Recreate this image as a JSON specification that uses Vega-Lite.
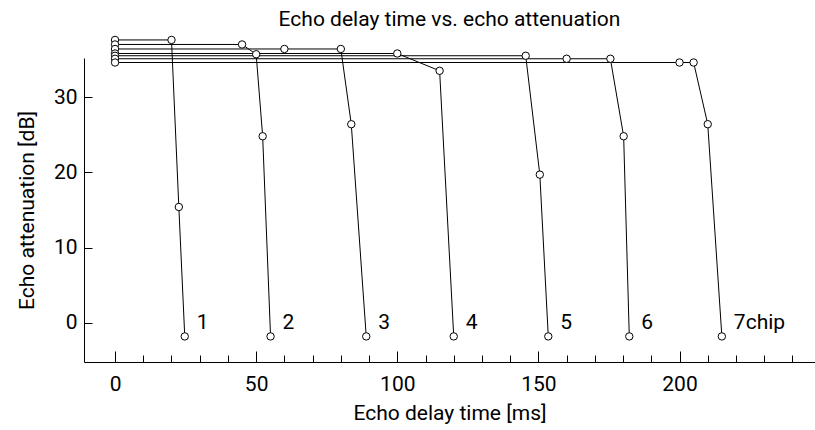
{
  "$schema": "https://vega.github.io/schema/vega-lite/v6.json",
  "width": 731,
  "height": 304,
  "autosize": "none",
  "padding": {"left": 84, "top": 58, "right": 0, "bottom": 68},
  "background": "white",
  "config": {
    "view": {"stroke": null},
    "font": "Roboto",
    "axis": {"domainColor": "black", "tickColor": "black", "labelColor": "black", "titleColor": "black", "grid": false, "labelFont": "Roboto", "titleFont": "Roboto", "titleFontWeight": "normal", "domainWidth": 1, "tickWidth": 1}
  },
  "title": {"text": "Echo delay time vs. echo attenuation", "fontSize": 21, "fontWeight": "normal", "font": "Roboto", "color": "black", "anchor": "middle", "frame": "group", "offset": 4},
  "resolve": {"axis": {"x": "independent"}},
  "datasets": {
    "pts": [
      {"series": "1", "step": 1, "delay": 0, "atten": 37.6},
      {"series": "1", "step": 2, "delay": 20, "atten": 37.6},
      {"series": "1", "step": 3, "delay": 22.6, "atten": 15.4},
      {"series": "1", "step": 4, "delay": 24.7, "atten": -1.8},
      {"series": "2", "step": 1, "delay": 0, "atten": 37.0},
      {"series": "2", "step": 2, "delay": 45, "atten": 37.0},
      {"series": "2", "step": 3, "delay": 50, "atten": 35.7},
      {"series": "2", "step": 4, "delay": 52.3, "atten": 24.8},
      {"series": "2", "step": 5, "delay": 55.1, "atten": -1.8},
      {"series": "3", "step": 1, "delay": 0, "atten": 36.4},
      {"series": "3", "step": 2, "delay": 60, "atten": 36.4},
      {"series": "3", "step": 3, "delay": 80, "atten": 36.4},
      {"series": "3", "step": 4, "delay": 83.7, "atten": 26.4},
      {"series": "3", "step": 5, "delay": 89, "atten": -1.8},
      {"series": "4", "step": 1, "delay": 0, "atten": 35.8},
      {"series": "4", "step": 2, "delay": 100, "atten": 35.8},
      {"series": "4", "step": 3, "delay": 115, "atten": 33.5},
      {"series": "4", "step": 4, "delay": 120, "atten": -1.8},
      {"series": "5", "step": 1, "delay": 0, "atten": 35.5},
      {"series": "5", "step": 2, "delay": 145.5, "atten": 35.5},
      {"series": "5", "step": 3, "delay": 150.5, "atten": 19.7},
      {"series": "5", "step": 4, "delay": 153.5, "atten": -1.8},
      {"series": "6", "step": 1, "delay": 0, "atten": 35.1},
      {"series": "6", "step": 2, "delay": 160, "atten": 35.1},
      {"series": "6", "step": 3, "delay": 175.5, "atten": 35.1},
      {"series": "6", "step": 4, "delay": 180.2, "atten": 24.8},
      {"series": "6", "step": 5, "delay": 182.2, "atten": -1.8},
      {"series": "7", "step": 1, "delay": 0, "atten": 34.6},
      {"series": "7", "step": 2, "delay": 200, "atten": 34.6},
      {"series": "7", "step": 3, "delay": 205, "atten": 34.6},
      {"series": "7", "step": 4, "delay": 210, "atten": 26.4},
      {"series": "7", "step": 5, "delay": 215, "atten": -1.8}
    ],
    "labels": [
      {"label": "1", "delay": 24.7, "atten": 0},
      {"label": "2", "delay": 55.1, "atten": 0},
      {"label": "3", "delay": 89, "atten": 0},
      {"label": "4", "delay": 120, "atten": 0},
      {"label": "5", "delay": 153.5, "atten": 0},
      {"label": "6", "delay": 182.2, "atten": 0},
      {"label": "7chip", "delay": 215, "atten": 0}
    ]
  },
  "layer": [
    {
      "data": {"name": "pts"},
      "mark": {"type": "line", "color": "black", "strokeWidth": 1, "clip": false},
      "encoding": {
        "x": {
          "field": "delay", "type": "quantitative",
          "scale": {"domain": [-11, 248], "nice": false, "zero": false},
          "axis": {
            "orient": "bottom",
            "values": [0, 50, 100, 150, 200],
            "tickSize": -11,
            "labelFontSize": 21,
            "labelPadding": 22,
            "labelFlush": false,
            "labelOverlap": false,
            "title": "Echo delay time [ms]",
            "titleFontSize": 21,
            "titlePadding": 8
          }
        },
        "y": {
          "field": "atten", "type": "quantitative",
          "scale": {"domain": [-5.2, 35.2], "nice": false, "zero": false},
          "axis": {
            "values": [0, 10, 20, 30],
            "tickSize": -8,
            "labelFontSize": 21,
            "labelPadding": 15,
            "labelFlush": false,
            "title": "Echo attenuation [dB]",
            "titleFontSize": 21,
            "titlePadding": 16
          }
        },
        "detail": {"field": "series"},
        "order": {"field": "step", "type": "quantitative"}
      }
    },
    {
      "data": {"name": "pts"},
      "mark": {"type": "point", "shape": "circle", "filled": true, "fill": "white", "stroke": "black", "strokeWidth": 1, "size": 55, "opacity": 1, "clip": false},
      "encoding": {
        "x": {
          "field": "delay", "type": "quantitative",
          "axis": {
            "orient": "bottom",
            "values": [10, 20, 30, 40, 60, 70, 80, 90, 110, 120, 130, 140, 160, 170, 180, 190, 210, 220, 230, 240],
            "tickSize": -7,
            "labels": false,
            "domain": false,
            "title": null
          }
        },
        "y": {"field": "atten", "type": "quantitative"}
      }
    },
    {
      "data": {"name": "labels"},
      "mark": {"type": "text", "align": "left", "baseline": "middle", "dx": 12, "fontSize": 21, "font": "Roboto", "color": "black"},
      "encoding": {
        "x": {"field": "delay", "type": "quantitative", "axis": null},
        "y": {"field": "atten", "type": "quantitative"},
        "text": {"field": "label"}
      }
    }
  ]
}
